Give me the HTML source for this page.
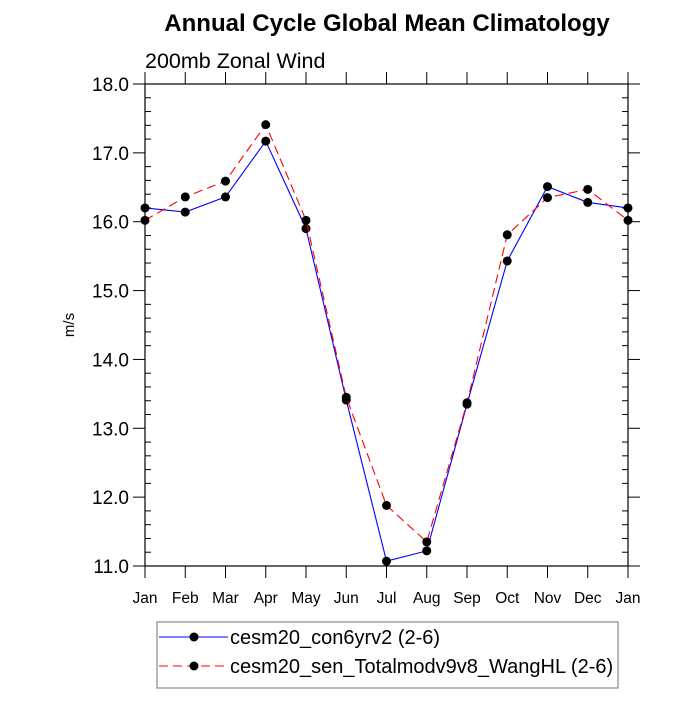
<!DOCTYPE html>
<html><head><meta charset="utf-8"><style>
body{margin:0;background:#fff}
svg text{font-family:"Liberation Sans",sans-serif}
</style></head><body>
<svg id="c" width="700" height="700" xmlns="http://www.w3.org/2000/svg">
<text x="387" y="31" text-anchor="middle" font-size="24" font-weight="bold">Annual Cycle Global Mean Climatology</text>
<text x="145" y="68" font-size="21.5">200mb Zonal Wind</text>
<text transform="translate(74,325) rotate(-90)" text-anchor="middle" font-size="15">m/s</text>
<g id="axes"></g>
<g id="series"></g>
<rect x="157" y="622" width="461" height="66" fill="none" stroke="#888" stroke-width="1.2"/>
<g>
<line x1="159" y1="637" x2="228" y2="637" stroke="blue" stroke-width="1"/>
<circle cx="194" cy="637" r="4.5" fill="#000"/>
<text x="230" y="644" font-size="20">cesm20_con6yrv2 (2-6)</text></g>
<g>
<line x1="159" y1="666" x2="228" y2="666" stroke="red" stroke-width="1" stroke-dasharray="9,5"/>
<circle cx="194" cy="666" r="4.5" fill="#000"/>
<text x="230" y="673" font-size="20">cesm20_sen_Totalmodv9v8_WangHL (2-6)</text></g>
</svg>
<script>
const months=["Jan","Feb","Mar","Apr","May","Jun","Jul","Aug","Sep","Oct","Nov","Dec","Jan"];
const yTicks=[11,12,13,14,15,16,17,18];
const yTickLabels=["11.0","12.0","13.0","14.0","15.0","16.0","17.0","18.0"];
const controlValues=[16.20,16.14,16.36,17.17,15.90,13.41,11.07,11.22,13.35,15.43,16.51,16.28,16.20];
const sensValues=[16.02,16.36,16.59,17.41,16.02,13.45,11.88,11.35,13.37,15.81,16.35,16.47,16.02];
const X0=145,X1=628,Y0=566,Y1=84,ymin=11,ymax=18;
const xs=i=>X0+(X1-X0)*i/(months.length-1);
const ys=v=>Y0-(Y0-Y1)*(v-ymin)/(ymax-ymin);
const NS="http://www.w3.org/2000/svg";
function mk(t,a,p){const e=document.createElementNS(NS,t);for(const k in a)e.setAttribute(k,a[k]);p.appendChild(e);return e;}
const ax=document.getElementById('axes');
const fr=mk('rect',{x:X0,y:Y1,width:X1-X0,height:Y0-Y1,fill:'none',stroke:'#000','stroke-width':1.2},ax);


for(let v=ymin;v<=ymax+1e-9;v+=0.2){const y=ys(v);const major=Math.abs(v-Math.round(v))<1e-6;
 if(major){mk('line',{x1:X0-12,y1:y,x2:X0,y2:y,stroke:'#000'},ax);mk('line',{x1:X1,y1:y,x2:X1+12,y2:y,stroke:'#000'},ax);}
 else{mk('line',{x1:X0,y1:y,x2:X0+6,y2:y,stroke:'#000'},ax);mk('line',{x1:X1-6,y1:y,x2:X1,y2:y,stroke:'#000'},ax);}}
yTicks.forEach((v,i)=>{const t=mk('text',{x:X0-16,y:ys(v)+7,'text-anchor':'end','font-size':19},ax);t.textContent=yTickLabels[i];

});
months.forEach((m,i)=>{const x=xs(i);mk('line',{x1:x,y1:Y0,x2:x,y2:Y0+12,stroke:'#000'},ax);mk('line',{x1:x,y1:Y1-12,x2:x,y2:Y1,stroke:'#000'},ax);
const t=mk('text',{x:x,y:Y0+37,'text-anchor':'middle','font-size':15.5},ax);t.textContent=m;

});
const sg=document.getElementById('series');
function draw(vals,color,dash,name){const g=mk('g',{},sg);


mk('polyline',{points:vals.map((v,i)=>xs(i)+','+ys(v)).join(' '),fill:'none',stroke:color,'stroke-width':1.1,'stroke-dasharray':dash},g);
vals.forEach((v,i)=>{const c=mk('circle',{cx:xs(i),cy:ys(v),r:4.5,fill:'#000'},g);

});}
draw(controlValues,'blue','none','series-control');
draw(sensValues,'red','9,5','series-sensitivity');
</script>
</body></html>
